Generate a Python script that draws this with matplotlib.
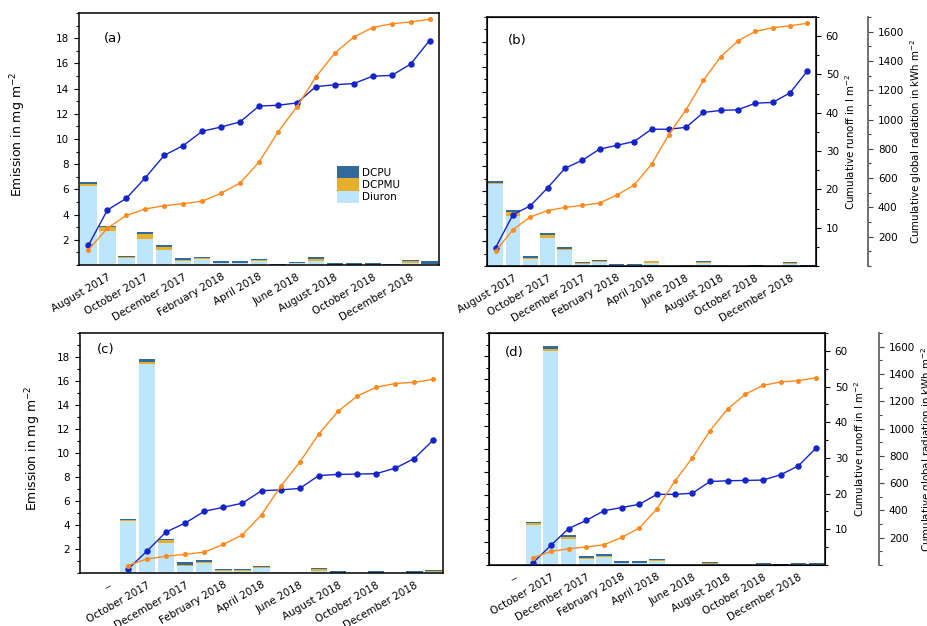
import matplotlib.pyplot as plt
from matplotlib.ticker import MultipleLocator
import numpy as np

# ---- data ----
x_ab = np.arange(19)
x_cd = np.arange(2, 19)
tick_pos = [1, 3, 5, 7, 9, 11, 13, 15, 17]
labels_ab = ["August 2017", "October 2017", "December 2017", "February 2018", "April 2018",
             "June 2018", "August 2018", "October 2018", "December 2018"]
labels_cd = ["--", "October 2017", "December 2017", "February 2018", "April 2018",
             "June 2018", "August 2018", "October 2018", "December 2018"]

# cumulative global radiation (kWh m-2)
rad_ab = [103, 248, 335, 378, 400, 414, 430, 484, 553, 694, 897, 1068, 1268, 1430, 1537, 1602, 1627, 1640, 1657]
rad_cd = [53, 99, 119, 132, 148, 202, 271, 412, 613, 785, 985, 1144, 1252, 1316, 1342, 1351, 1372]

# cumulative runoff (l m-2)
runoff_a = [5.1, 14.2, 17.2, 22.5, 28.3, 30.8, 34.5, 35.6, 36.9, 41.0, 41.2, 41.8, 46.0, 46.5, 46.8, 48.7, 48.9, 51.8, 57.9]
runoff_b = [4.8, 13.4, 15.7, 20.4, 25.5, 27.6, 30.5, 31.5, 32.5, 35.7, 35.7, 36.2, 40.1, 40.6, 40.8, 42.5, 42.7, 45.2, 50.9]
runoff_c = [1.0, 5.9, 11.1, 13.5, 16.7, 17.8, 18.9, 22.3, 22.5, 22.9, 26.4, 26.7, 26.8, 26.9, 28.4, 31.0, 36.1]
runoff_d = [0.7, 5.5, 10.2, 12.5, 15.2, 16.1, 17.0, 19.8, 19.8, 20.1, 23.4, 23.6, 23.7, 23.8, 25.3, 27.8, 32.8]

# emissions (mg m-2)
diuron_a = [6.28, 2.69, 0.52, 2.03, 1.18, 0.28, 0.49, 0.15, 0.15, 0.29, 0.0, 0.14, 0.31, 0.01, 0.01, 0.01, 0.0, 0.12, 0.05]
dcpmu_a = [0.16, 0.32, 0.13, 0.40, 0.21, 0.08, 0.08, 0.03, 0.03, 0.10, 0.02, 0.01, 0.16, 0.01, 0.01, 0.01, 0.02, 0.16, 0.06]
dcpu_a = [0.13, 0.10, 0.10, 0.16, 0.16, 0.16, 0.10, 0.10, 0.10, 0.08, 0.05, 0.05, 0.13, 0.10, 0.10, 0.10, 0.02, 0.08, 0.20]

diuron_b = [6.58, 4.03, 0.55, 2.21, 1.25, 0.20, 0.31, 0.05, 0.05, 0.28, 0.0, 0.0, 0.22, 0.05, 0.0, 0.0, 0.0, 0.15, 0.0]
dcpmu_b = [0.11, 0.29, 0.11, 0.24, 0.11, 0.05, 0.06, 0.05, 0.05, 0.10, 0.0, 0.05, 0.10, 0.0, 0.0, 0.0, 0.0, 0.10, 0.02]
dcpu_b = [0.16, 0.19, 0.11, 0.21, 0.13, 0.11, 0.10, 0.10, 0.10, 0.06, 0.01, 0.04, 0.10, 0.05, 0.0, 0.08, 0.0, 0.08, 0.10]

diuron_c = [4.31, 17.42, 2.50, 0.58, 0.81, 0.16, 0.15, 0.45, 0.05, 0.08, 0.20, 0.04, 0.0, 0.04, 0.0, 0.02, 0.08]
dcpmu_c = [0.08, 0.19, 0.22, 0.11, 0.11, 0.06, 0.08, 0.06, 0.0, 0.0, 0.14, 0.0, 0.0, 0.0, 0.0, 0.0, 0.05]
dcpu_c = [0.11, 0.19, 0.11, 0.19, 0.17, 0.14, 0.10, 0.10, 0.0, 0.02, 0.10, 0.10, 0.0, 0.15, 0.0, 0.12, 0.12]

diuron_d = [3.48, 18.48, 2.27, 0.52, 0.69, 0.14, 0.14, 0.35, 0.0, 0.0, 0.08, 0.0, 0.0, 0.05, 0.0, 0.07, 0.05]
dcpmu_d = [0.11, 0.17, 0.17, 0.11, 0.09, 0.03, 0.03, 0.05, 0.03, 0.03, 0.08, 0.03, 0.03, 0.0, 0.03, 0.0, 0.0]
dcpu_d = [0.09, 0.26, 0.14, 0.14, 0.14, 0.17, 0.17, 0.12, 0.0, 0.0, 0.10, 0.0, 0.0, 0.12, 0.02, 0.10, 0.12]

c_diuron = '#bde5fb'
c_dcpmu = '#e8ae2e'
c_dcpu = '#336a9c'
c_run = '#1424c8'
c_rad = '#ff8a1e'

plt.rcParams['font.family'] = 'DejaVu Sans'
fs_tick = 7.5
fs_lab = 9.0
fs_rlab = 7.4

fig = plt.figure(figsize=(9.28, 6.26), dpi=100)

W, H = 928, 626
def box(l, t, r, b):
    return [l / W, (H - b) / H, (r - l) / W, (b - t) / H]


def panel(rect, x, diuron, dcpmu, dcpu, runoff, rad, labels, tag, tagxy, show_left, show_right,
          ylab_x, right_off=52):
    ax = fig.add_axes(rect)
    d = np.array(diuron)
    m = np.array(dcpmu)
    u = np.array(dcpu)
    ax.bar(x, d, width=0.86, color=c_diuron, label='Diuron')
    ax.bar(x, m, width=0.86, bottom=d, color=c_dcpmu, label='DCPMU')
    ax.bar(x, u, width=0.86, bottom=d + m, color=c_dcpu, label='DCPU')
    ax.set_xlim(-0.5, 18.5)
    ax.set_ylim(0, 20)
    ax.set_yticks(range(2, 19, 2))
    ax.yaxis.set_minor_locator(MultipleLocator(1))
    ax.set_xticks(tick_pos)
    ax.set_xticklabels(labels, rotation=30, ha='right', rotation_mode='anchor')
    ax.tick_params(axis='x', length=0, pad=5, labelsize=fs_tick)
    ax.tick_params(axis='y', which='major', length=3.5, width=0.8, labelsize=fs_tick, labelleft=show_left)
    ax.tick_params(axis='y', which='minor', length=2, width=0.8)
    for s in ax.spines.values():
        s.set_linewidth(1.1)
    if show_left:
        ax.set_ylabel('Emission in mg m$^{-2}$', fontsize=fs_lab)
        ax.yaxis.set_label_coords(ylab_x, 0.52)
    ax.text(tagxy[0], tagxy[1], tag, transform=ax.transAxes, fontsize=9.5, va='center')

    ax_r = ax.twinx()
    ax_r.plot(x, runoff, color=c_run, lw=1, marker='o', ms=3.6)
    ax_r.set_ylim(0, 65)
    ax_g = ax.twinx()
    ax_g.plot(x, rad, color=c_rad, lw=1, marker='o', ms=2.6)
    ax_g.set_ylim(0, 1700)
    ax_r.set_xlim(-0.5, 18.5)
    ax_g.set_xlim(-0.5, 18.5)
    if show_right:
        ax_r.set_yticks(range(10, 61, 10))
        ax_r.yaxis.set_minor_locator(MultipleLocator(5))
        ax_r.tick_params(which='major', length=3.5, width=0.8, labelsize=fs_tick)
        ax_r.tick_params(which='minor', length=2, width=0.8)
        ax_r.set_ylabel('Cumulative runoff in l m$^{-2}$', fontsize=fs_rlab)
        ax_r.yaxis.set_label_coords(1.082, 0.5)
        ax_g.spines['right'].set_position(('outward', right_off))
        ax_g.spines['right'].set_color('#707070')
        ax_g.spines['right'].set_linewidth(1.4)
        for k in ['top', 'bottom', 'left']:
            ax_g.spines[k].set_visible(False)
        ax_g.set_yticks(range(200, 1601, 200))
        ax_g.yaxis.set_minor_locator(MultipleLocator(100))
        ax_g.tick_params(which='major', length=3.5, width=0.8, labelsize=fs_tick, color='#444444')
        ax_g.tick_params(which='minor', length=2, width=0.8, color='#444444')
        ax_g.set_ylabel('Cumulative global radiation in kWh m$^{-2}$', fontsize=fs_rlab)
        ax_g.yaxis.set_label_coords(1.28, 0.5)
    else:
        ax_r.axis('off')
        ax_g.axis('off')
    return ax


# offsets of the third axis are in points (pixels * 0.72)
ax_a = panel(box(79, 13, 439, 265), x_ab, diuron_a, dcpmu_a, dcpu_a, runoff_a, rad_ab, labels_ab,
             '(a)', (0.07, 0.9), True, False, -0.142)
ax_b = panel(box(487, 17, 816, 266), x_ab, diuron_b, dcpmu_b, dcpu_b, runoff_b, rad_ab, labels_ab,
             '(b)', (0.064, 0.907), False, True, 0, right_off=37.5)
ax_c = panel(box(80, 333, 443, 573), x_cd, diuron_c, dcpmu_c, dcpu_c, runoff_c, rad_cd, labels_cd,
             '(c)', (0.047, 0.93), True, False, -0.102)
ax_d = panel(box(489, 333, 825, 565), x_cd, diuron_d, dcpmu_d, dcpu_d, runoff_d, rad_cd, labels_cd,
             '(d)', (0.048, 0.918), False, True, 0, right_off=39)

h, l = ax_a.get_legend_handles_labels()
ax_a.legend(h[::-1], l[::-1], loc='upper left', bbox_to_anchor=(0.717, 0.393), frameon=False,
            fontsize=fs_tick, borderpad=0, borderaxespad=0, handlelength=2.1, handleheight=1.45,
            labelspacing=0.0, handletextpad=0.3)

plt.savefig('out.png', dpi=100)
